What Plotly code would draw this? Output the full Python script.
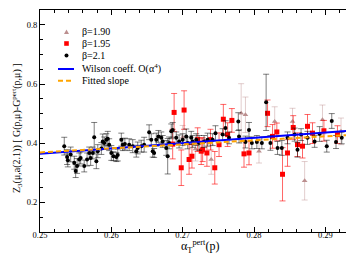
import plotly.graph_objects as go

# ---------------- data ----------------
b21_x = [0.2534,0.2538,0.2539,0.2543,0.2548,0.2550,0.2552,0.2555,0.2557,0.2562,0.2566,0.2569,0.2571,0.2574,0.2576,
         0.2579,0.2581,0.2586,0.2588,0.2590,0.2593,0.2595,0.2597,0.2600,0.2603,0.2607,0.2609,0.2614,0.2616,0.2619,
         0.2625,0.2630,0.2635,0.2637,0.2642,0.2646,0.2653,0.2656,0.2658,0.2660,0.2663,0.2666,0.2670,0.2672,0.2677,
         0.2679,0.2681,0.2684,0.2686,0.2691,0.2695,0.2700,0.2705,0.2707,0.2712,0.2714,0.2719,0.2723,0.2730,0.2735,
         0.2742,0.2746,0.2756,0.2760,0.2765,0.2778,0.2779,0.2788,0.2793,0.2797,0.2804,0.2811,0.2817,0.2823,0.2833,
         0.2839,0.2847,0.2857,0.2861,0.2866,0.2875,0.2885,0.2892,0.2902,0.2909,0.2915,0.2923,0.2936,0.2941]
b21_y = [0.390,0.353,0.342,0.362,0.334,0.306,0.323,0.345,0.350,0.323,0.345,0.367,0.350,0.367,0.420,
         0.339,0.373,0.382,0.406,0.401,0.412,0.415,0.395,0.367,0.356,0.353,0.360,0.412,0.395,0.397,
         0.395,0.390,0.373,0.384,0.390,0.395,0.437,0.412,0.373,0.367,0.412,0.423,0.418,0.406,0.384,
         0.356,0.401,0.440,0.445,0.418,0.406,0.412,0.423,0.401,0.418,0.406,0.412,0.401,0.406,0.412,
         0.412,0.434,0.429,0.451,0.418,0.473,0.423,0.404,0.445,0.401,0.404,0.401,0.538,0.401,0.384,
         0.384,0.418,0.429,0.378,0.429,0.418,0.406,0.431,0.390,0.475,0.404,0.418,0.404,0.429]
b21_e = [0.030,0.025,0.022,0.025,0.022,0.022,0.025,0.022,0.020,0.020,0.022,0.020,0.025,0.020,0.050,
         0.025,0.022,0.020,0.025,0.020,0.020,0.025,0.020,0.025,0.015,0.015,0.020,0.022,0.020,0.020,
         0.020,0.022,0.020,0.020,0.020,0.025,0.025,0.020,0.020,0.015,0.022,0.020,0.020,0.020,0.025,
         0.060,0.020,0.025,0.025,0.020,0.022,0.020,0.025,0.020,0.022,0.020,0.020,0.025,0.020,0.022,
         0.020,0.025,0.020,0.025,0.020,0.030,0.022,0.020,0.025,0.020,0.022,0.020,0.095,0.025,0.022,
         0.025,0.020,0.022,0.025,0.020,0.022,0.020,0.025,0.020,0.025,0.022,0.020,0.020,0.025]

b195_x = [0.2686,0.2688,0.2698,0.2702,0.2709,0.2713,0.2721,0.2726,0.2728,0.2734,0.2739,0.2745,0.2751,0.2757,0.2763,
          0.2769,0.2786,0.2793,0.2819,0.2826,0.2832,0.2840,0.2847,0.2855,0.2861,0.2868,0.2875,0.2882,0.2898,0.2917,
          0.2934,0.2941]
b195_y = [0.397,0.504,0.317,0.512,0.345,0.356,0.412,0.373,0.378,0.367,0.412,0.317,0.395,0.481,0.429,
          0.477,0.364,0.367,0.501,0.423,0.438,0.295,0.367,0.453,0.395,0.390,0.457,0.434,0.442,0.429,
          0.473,0.406]
b195_e = [0.050,0.064,0.060,0.065,0.050,0.040,0.040,0.045,0.040,0.045,0.035,0.055,0.040,0.050,0.040,
          0.040,0.045,0.040,0.045,0.040,0.030,0.090,0.045,0.040,0.040,0.040,0.040,0.035,0.035,0.030,
          0.030,0.040]

b190_x = [0.2700,0.2718,0.2740,0.2782,0.2788,0.2807,0.2829,0.2854,0.2871,0.2896,0.2922,0.2935]
b190_y = [0.420,0.380,0.345,0.501,0.496,0.373,0.473,0.473,0.273,0.479,0.440,0.470]
b190_e = [0.040,0.040,0.050,0.100,0.060,0.040,0.050,0.045,0.065,0.050,0.045,0.040]

wilson_x = [0.25, 0.295]
wilson_y = [0.364, 0.445]
fit_x = [0.25, 0.295]
fit_y = [0.369, 0.430]

x_range = [0.25, 0.295]
y_range = [0.1, 0.85]
x_ticks = [0.25, 0.26, 0.27, 0.28, 0.29]
y_ticks = [0.2, 0.4, 0.6, 0.8]

legend_labels = ["β=1.90", "β=1.95", "β=2.1", "Wilson coeff. O(α<sup>4</sup>)", "Fitted slope"]
x_title = "α<sub>T</sub><sup>pert</sup>(p)"
y_title = "Z<sub>3</sub>(μ,a(2.1)) [ G(p,μ)-G<sup>pert</sup>(p,μ) ]"

# ---------------- figure ----------------
W, H = 354, 255
ML, MR, MT, MB = 32, 1, 2, 31
PW, PH = W - ML - MR, H - MT - MB
SERIF = "Liberation Serif"

def px(xp):
    return (xp - ML) / PW

def py(yp):
    return 1 - (yp - MT) / PH

fig = go.Figure()

fig.add_trace(go.Scatter(
    x=b190_x, y=b190_y, mode="markers",
    marker=dict(symbol="triangle-up", size=5, color="#bc8f8f"),
    error_y=dict(type="data", array=b190_e, color="rgba(188,143,143,0.45)", thickness=1, width=3),
    showlegend=False))
fig.add_trace(go.Scatter(
    x=b195_x, y=b195_y, mode="markers",
    marker=dict(symbol="square", size=5, color="#ff0000"),
    error_y=dict(type="data", array=b195_e, color="rgba(255,0,0,0.6)", thickness=1, width=3),
    showlegend=False))
fig.add_trace(go.Scatter(
    x=b21_x, y=b21_y, mode="markers",
    marker=dict(symbol="circle", size=4, color="#000000"),
    error_y=dict(type="data", array=b21_e, color="rgba(0,0,0,0.5)", thickness=1, width=3),
    showlegend=False))
fig.add_trace(go.Scatter(
    x=wilson_x, y=wilson_y, mode="lines",
    line=dict(color="#0000ff", width=2), showlegend=False))
fig.add_trace(go.Scatter(
    x=fit_x, y=fit_y, mode="lines",
    line=dict(color="#ffa500", width=2, dash="5px,3px"), showlegend=False))

# custom compact legend
shapes = []
annots = []
rows = [24, 35.5, 47.5, 61, 72.7]
mx = 58.5
shapes.append(dict(type="path", xref="paper", yref="paper",
                   path=f"M {px(mx-2.5)} {py(rows[0]+2)} L {px(mx+2.5)} {py(rows[0]+2)} L {px(mx)} {py(rows[0]-2.5)} Z",
                   fillcolor="#bc8f8f", line=dict(width=0)))
shapes.append(dict(type="rect", xref="paper", yref="paper",
                   x0=px(mx-2.3), x1=px(mx+2.3), y0=py(rows[1]+2.3), y1=py(rows[1]-2.3),
                   fillcolor="#ff0000", line=dict(width=0)))
shapes.append(dict(type="circle", xref="paper", yref="paper",
                   x0=px(mx-2), x1=px(mx+2), y0=py(rows[2]+2), y1=py(rows[2]-2),
                   fillcolor="#000000", line=dict(width=0)))
shapes.append(dict(type="line", xref="paper", yref="paper",
                   x0=px(50), x1=px(66), y0=py(rows[3]), y1=py(rows[3]),
                   line=dict(color="#0000ff", width=2)))
shapes.append(dict(type="line", xref="paper", yref="paper",
                   x0=px(50), x1=px(66), y0=py(rows[4]), y1=py(rows[4]),
                   line=dict(color="#ffa500", width=2, dash="5px,3px")))
for lab, r in zip(legend_labels, rows):
    annots.append(dict(text=lab, xref="paper", yref="paper", x=px(71.5), y=py(r),
                       xanchor="left", yanchor="middle", showarrow=False,
                       font=dict(family=SERIF, size=10, color="black")))

# axis titles
annots.append(dict(text=x_title, xref="paper", yref="paper", x=px(192), y=py(228),
                   xanchor="center", yanchor="top", showarrow=False,
                   font=dict(family=SERIF, size=12, color="black")))
annots.append(dict(text=y_title, xref="paper", yref="paper", x=px(9), y=py(120),
                   xanchor="center", yanchor="middle", showarrow=False, textangle=-90,
                   font=dict(family=SERIF, size=10, color="black")))

axis_common = dict(
    showline=True, linecolor="black", linewidth=1, mirror="allticks",
    ticks="inside", ticklen=5, tickwidth=1, tickcolor="black",
    showgrid=False, zeroline=False,
    tickfont=dict(family=SERIF, size=8.5, color="black"),
)

fig.update_layout(
    width=W, height=H,
    margin=dict(l=ML, r=MR, t=MT, b=MB),
    paper_bgcolor="white", plot_bgcolor="white",
    shapes=shapes, annotations=annots,
    xaxis=dict(range=x_range, tickvals=x_ticks, ticktext=[f"{v:g}" for v in x_ticks],
               minor=dict(dtick=0.002, ticks="inside", ticklen=3, tickcolor="black"),
               ticklabelstandoff=-5,
               **axis_common),
    yaxis=dict(range=y_range, tickvals=y_ticks, ticktext=[f"{v:g}" for v in y_ticks],
               minor=dict(dtick=0.05, ticks="inside", ticklen=3, tickcolor="black"),
               **axis_common),
)

fig.write_html("out.html")
